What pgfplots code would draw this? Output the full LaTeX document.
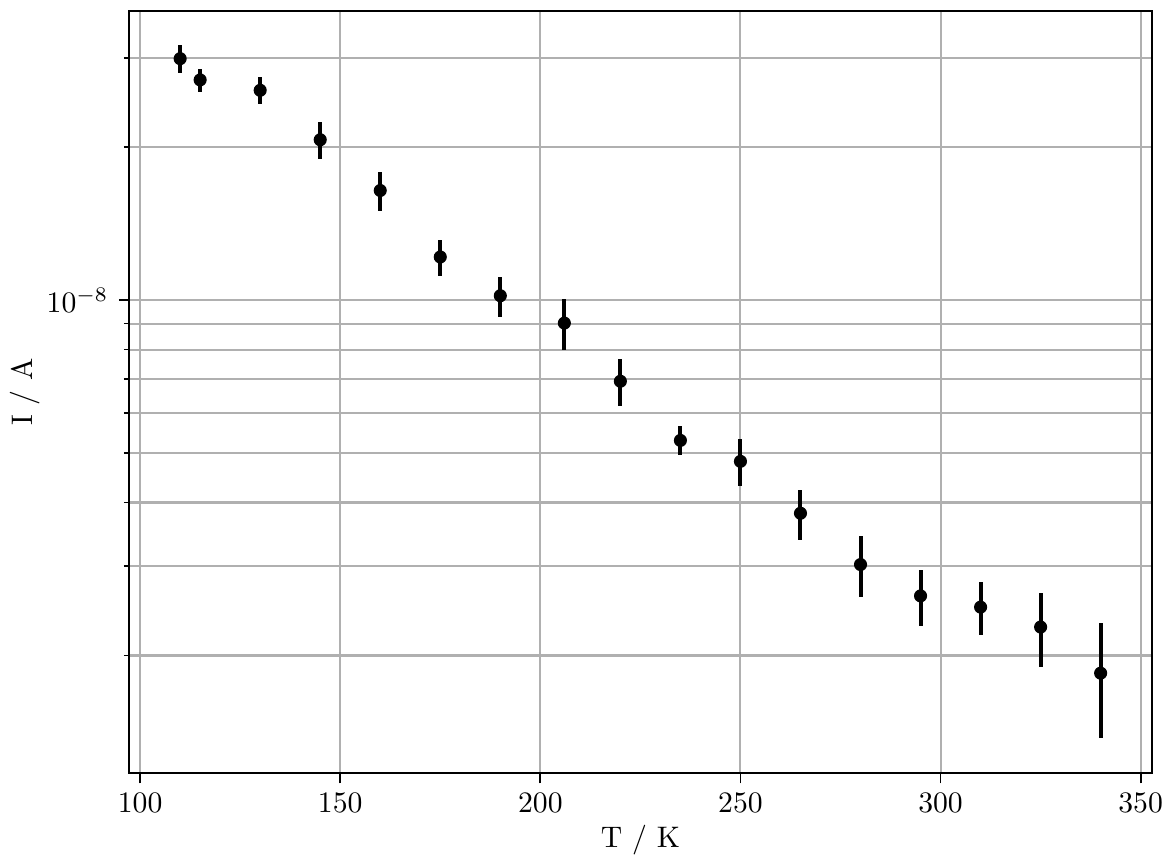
\documentclass[border=0pt]{standalone}
\usepackage{pgfplots}
\pgfplotsset{compat=1.18}
\usepackage{pgfplotstable}
\definecolor{gridgray}{HTML}{B0B0B0}

% T / K, I / A, uncertainty of I / A
\pgfplotstableread{
T     I          dI
110   2.99e-8    0.19e-8
115   2.715e-8   0.14e-8
130   2.59e-8    0.16e-8
145   2.07e-8    0.17e-8
160   1.645e-8   0.146e-8
175   1.217e-8   0.10e-8
190   1.021e-8   0.092e-8
206   9.02e-9    1.05e-9
220   6.93e-9    0.74e-9
235   5.30e-9    0.35e-9
250   4.82e-9    0.51e-9
265   3.81e-9    0.43e-9
280   3.02e-9    0.41e-9
295   2.62e-9    0.33e-9
310   2.49e-9    0.30e-9
325   2.275e-9   0.38e-9
340   1.846e-9   0.47e-9
}\datatable

\begin{document}
\begin{tikzpicture}
\path[use as bounding box] (-43.4pt,-28.6pt) rectangle (350.5pt,260.3pt);
\begin{axis}[
  at={(0,0)}, anchor=south west,
  scale only axis,
  width=344.4pt, height=256.6pt,
  ymode=log,
  xmin=97.2, xmax=352.8,
  ymin=1.173e-9, ymax=3.71e-8,
  xtick={100,150,200,250,300,350},
  ytick={1e-8},
  minor ytick={2e-9,3e-9,4e-9,5e-9,6e-9,7e-9,8e-9,9e-9,2e-8,3e-8},
  xtick pos=bottom, ytick pos=left,
  tick align=outside,
  major tick length=3.4pt,
  minor tick length=1.7pt,
  every tick/.style={black, line width=0.6pt},
  axis line style={black, line width=0.7pt},
  grid=both,
  major grid style={gridgray, line width=0.7pt},
  minor grid style={gridgray, line width=0.7pt},
  xlabel={T / K},
  ylabel={I / A},
  xlabel style={at={(axis description cs:0.5,-0.0881)}, anchor=center},
  ylabel style={at={(axis description cs:-0.1016,0.5)}, anchor=center},
]
\addplot[
  only marks, black,
  mark=*, mark size=2pt,
  error bars/.cd,
    y dir=both, y explicit,
    error mark=none,
    error bar style={line width=1.35pt, black},
] table[x=T, y=I, y error=dI] {\datatable};
\end{axis}
\end{tikzpicture}
\end{document}
